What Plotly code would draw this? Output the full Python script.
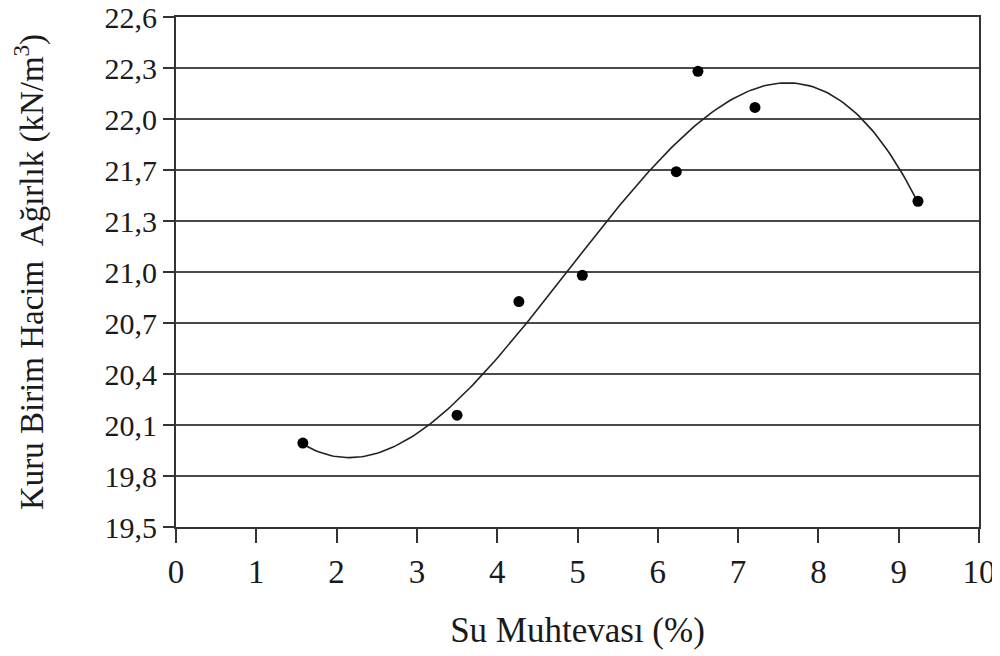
import numpy as np
import plotly.graph_objects as go

# ── data ──────────────────────────────────────────────────────────────────────
water_content = [1.58, 3.50, 4.27, 5.06, 6.23, 6.50, 7.21, 9.24]
dry_unit_weight = [20.01, 20.18, 20.87, 21.03, 21.66, 22.27, 22.05, 21.48]

y_tick_vals = [19.5, 19.81, 20.12, 20.43, 20.74, 21.05, 21.36, 21.67, 21.98, 22.29, 22.6]
y_tick_text = ["19,5", "19,8", "20,1", "20,4", "20,7", "21,0", "21,3", "21,7", "22,0", "22,3", "22,6"]
x_tick_vals = list(range(0, 11))

# 3rd order polynomial trendline (as in the spreadsheet)
_coef = np.polyfit(water_content, dry_unit_weight, 3)
_tx = np.linspace(min(water_content), max(water_content), 200)
_ty = np.polyval(_coef, _tx)

serif = "Liberation Serif, Times New Roman, serif"

fig = go.Figure()
fig.add_trace(go.Scatter(
    x=_tx, y=_ty,
    mode="lines",
    line=dict(color="#222", width=1.6),
    hoverinfo="skip",
    showlegend=False,
))
fig.add_trace(go.Scatter(
    x=water_content, y=dry_unit_weight,
    mode="markers",
    marker=dict(color="black", size=11),
    showlegend=False,
))

# page body has an 8px default margin, so the figure is sized to fit inside it
fig.update_layout(
    width=992, height=648,
    margin=dict(l=168, r=21, t=9, b=129),
    plot_bgcolor="white", paper_bgcolor="white",
    font=dict(family=serif, color="#1a1a1a"),
    xaxis=dict(
        range=[0, 10], tickvals=x_tick_vals, automargin=False,
        ticks="outside", ticklen=14, tickwidth=1.5, tickcolor="#333",
        showline=True, linecolor="#333", linewidth=2, mirror=True,
        showgrid=False, zeroline=False,
        tickfont=dict(size=33),
        title=dict(text="Su Muhtevası (%)", font=dict(size=35), standoff=29),
    ),
    yaxis=dict(
        range=[19.5, 22.6], tickvals=y_tick_vals, ticktext=y_tick_text, automargin=False,
        ticklabeloverflow="allow",
        ticks="outside", ticklen=11, tickwidth=1.5, tickcolor="#333",
        showline=True, linecolor="#333", linewidth=2, mirror=True,
        showgrid=True, gridcolor="#4a4a4a", gridwidth=2, zeroline=False,
        tickfont=dict(size=30),
        title=dict(text="Kuru Birim Hacim  Ağırlık (kN/m<sup>3</sup>)", font=dict(size=33), standoff=54),
    ),
)

fig.write_html("out.html")
